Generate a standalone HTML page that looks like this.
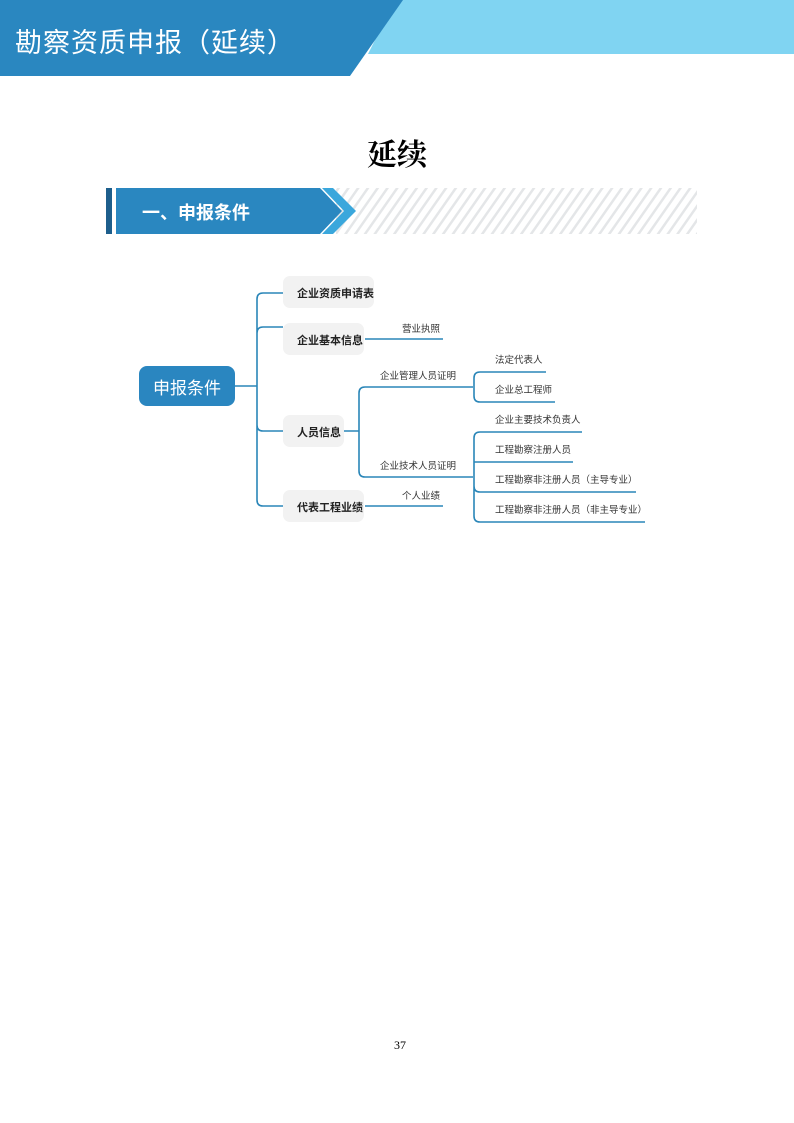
<!DOCTYPE html>
<html><head><meta charset="utf-8"><style>
body{margin:0;background:#fff;}
.pg{position:relative;width:794px;height:1123px;overflow:hidden;font-family:"Liberation Sans","Noto Sans CJK SC",sans-serif;}
.t{position:absolute;white-space:nowrap;}
</style></head><body><div class="pg">
<svg width="794" height="1123" style="position:absolute;left:0;top:0">
<defs><pattern id="h" width="8" height="8" patternUnits="userSpaceOnUse" patternTransform="rotate(35)"><rect width="8" height="8" fill="#fff"/><rect width="2.5" height="8" fill="#e4e6e8"/></pattern></defs>
<polygon points="395,0 794,0 794,54 368,54" fill="#80d4f2"/>
<polygon points="0,0 403,0 350,76 0,76" fill="#2a87c0"/>
<rect x="336" y="188" width="361" height="46" fill="url(#h)"/>
<rect x="106" y="188" width="6" height="46" fill="#1d5e8c"/>
<polygon points="116,188 320,188 342,211 320,234 116,234" fill="#2a87c0"/>
<polygon points="322,188 333,188 356,211 333,234 322,234 344,211" fill="#3aa7dc"/>
<rect x="139" y="366" width="96" height="40" rx="8" fill="#2a86c0"/>
<g fill="#f2f2f2"><rect x="283" y="276" width="91" height="32" rx="7"/><rect x="283" y="323" width="81" height="32" rx="7"/><rect x="283" y="415" width="61" height="32" rx="7"/><rect x="283" y="490" width="81" height="32" rx="7"/></g>
<g fill="none" stroke="#2a86b8" stroke-width="1.6">
<path d="M235 386H257M257 386V299q0-6 6-6h20M257 386V333q0-6 6-6h20M257 386V425q0 6 6 6h20M257 386V500q0 6 6 6h20"/>
<path d="M365 339H443M365 506H443"/>
<path d="M344 431H359M359 431V393q0-6 6-6h108M359 431V471q0 6 6 6h108"/>
<path d="M474 387V378q0-6 6-6h66M474 387V396q0 6 6 6h75"/>
<path d="M474 477V438q0-6 6-6h102M474 462H573M474 477V486q0 6 6 6h156M474 477V516q0 6 6 6h165"/>
</g>
</svg>
<div class="t" style="left:15px;top:21px;font-size:27px;color:#fff;letter-spacing:1px">勘察资质申报（延续）</div>
<div class="t" style="left:0;width:794px;text-align:center;top:130px;font-size:30px;font-weight:bold;font-family:'Liberation Serif','Noto Serif CJK SC',serif">延续</div>
<div class="t" style="left:142px;top:199px;font-size:18px;font-weight:bold;color:#fff">一、申报条件</div>
<div class="t" style="left:139px;width:96px;text-align:center;top:374px;font-size:17px;color:#fff">申报条件</div>
<div style="font-size:11px;font-weight:bold;color:#222">
<div class="t" style="left:297px;top:285px">企业资质申请表</div>
<div class="t" style="left:297px;top:332px">企业基本信息</div>
<div class="t" style="left:297px;top:424px">人员信息</div>
<div class="t" style="left:297px;top:499px">代表工程业绩</div>
</div>
<div style="font-size:9.5px;color:#333">
<div class="t" style="left:402px;top:321px">营业执照</div>
<div class="t" style="left:402px;top:488px">个人业绩</div>
<div class="t" style="left:380px;top:368px">企业管理人员证明</div>
<div class="t" style="left:380px;top:458px">企业技术人员证明</div>
<div class="t" style="left:495px;top:352px">法定代表人</div>
<div class="t" style="left:495px;top:382px">企业总工程师</div>
<div class="t" style="left:495px;top:412px">企业主要技术负责人</div>
<div class="t" style="left:495px;top:442px">工程勘察注册人员</div>
<div class="t" style="left:495px;top:472px">工程勘察非注册人员（主导专业）</div>
<div class="t" style="left:495px;top:502px">工程勘察非注册人员（非主导专业）</div>
</div>
<div class="t" style="left:0;width:800px;text-align:center;top:1038px;font-size:12px;font-family:'Liberation Serif',serif">37</div>
</div></body></html>
